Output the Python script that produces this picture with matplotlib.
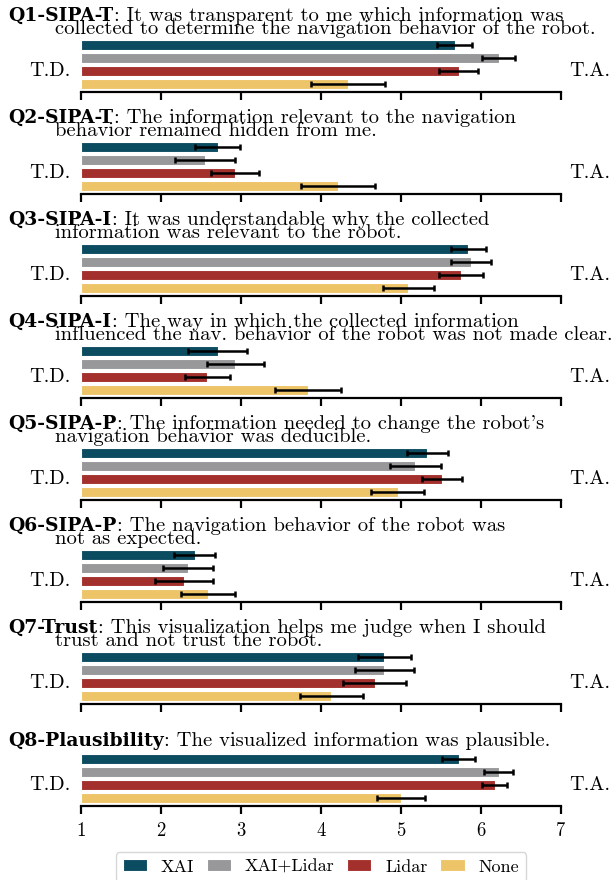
import numpy as np
import matplotlib.pyplot as plt

plt.rcParams['font.family'] = ['cmr10', 'DejaVu Serif']
plt.rcParams['mathtext.fontset'] = 'cm'
plt.rcParams['axes.formatter.use_mathtext'] = True

conditions = ["XAI", "XAI+Lidar", "Lidar", "None"]
colors = ["#0b4c61", "#98989b", "#a3302c", "#eec468"]

prefixes = ["Q1-SIPA-T", "Q2-SIPA-T", "Q3-SIPA-I", "Q4-SIPA-I",
            "Q5-SIPA-P", "Q6-SIPA-P", "Q7-Trust", "Q8-Plausibility"]
line1 = ["It was transparent to me which information was",
         "The information relevant to the navigation",
         "It was understandable why the collected",
         "The way in which the collected information",
         "The information needed to change the robot's",
         "The navigation behavior of the robot was",
         "This visualization helps me judge when I should",
         "The visualized information was plausible."]
line2 = ["collected to determine the navigation behavior of the robot.",
         "behavior remained hidden from me.",
         "information was relevant to the robot.",
         "influenced the nav. behavior of the robot was not made clear.",
         "navigation behavior was deducible.",
         "not as expected.",
         "trust and not trust the robot.",
         ""]

xai_mean = [5.67, 2.71, 5.84, 2.71, 5.33, 2.42, 4.79, 5.72]
xai_err = [0.22, 0.28, 0.22, 0.37, 0.26, 0.26, 0.33, 0.21]
xailidar_mean = [6.22, 2.55, 5.88, 2.93, 5.18, 2.34, 4.79, 6.22]
xailidar_err = [0.21, 0.38, 0.25, 0.36, 0.32, 0.31, 0.37, 0.18]
lidar_mean = [5.72, 2.93, 5.75, 2.58, 5.51, 2.29, 4.67, 6.17]
lidar_err = [0.24, 0.30, 0.27, 0.28, 0.25, 0.36, 0.39, 0.16]
none_mean = [4.34, 4.21, 5.09, 3.84, 4.96, 2.59, 4.13, 5.00]
none_err = [0.46, 0.46, 0.32, 0.41, 0.33, 0.34, 0.39, 0.30]

means = np.array([xai_mean, xailidar_mean, lidar_mean, none_mean])
errs = np.array([xai_err, xailidar_err, lidar_err, none_err])
ticks = [1, 2, 3, 4, 5, 6, 7]

W, H = 616, 880
fig = plt.figure(figsize=(W / 100, H / 100), dpi=100)
renderer = fig.canvas.get_renderer()
fs = 14.8

handles = []
for i in range(8):
    top = 37.7 + 102 * i
    ax = fig.add_axes([81 / W, 1 - (top + 54) / H, 480 / W, 54 / H])
    y = np.arange(4)
    for k in range(4):
        b = ax.barh(y[k], means[k, i] - 1, left=1, height=0.8, color=colors[k],
                    edgecolor="white", linewidth=0.8, label=conditions[k])
        if i == 0:
            handles.append(b)
    ax.errorbar(means[:, i], y, xerr=errs[:, i], fmt="none", ecolor="black",
                elinewidth=1.8, capsize=2.5, capthick=1.8)
    ax.set_xlim(1, 7)
    ax.set_ylim(3.59, -0.59)
    ax.set_xticks(ticks)
    ax.set_yticks([])
    for s in ["left", "top", "right"]:
        ax.spines[s].set_visible(False)
    ax.spines["bottom"].set_linewidth(1.6)
    ax.tick_params(axis="x", direction="out", length=6, width=1.6,
                   labelsize=13.5, labelbottom=(i == 7), pad=6)
    ax.text(-0.021, 0.29, "T.D.", transform=ax.transAxes, ha="right",
            va="baseline", fontsize=14.5)
    ax.text(1.018, 0.29, "T.A.", transform=ax.transAxes, ha="left",
            va="baseline", fontsize=14.5)

    # title: bold prefix followed by regular text, second line indented
    if line2[i]:
        y1 = 1 - (top - 17) / H
    else:
        y1 = 1 - (top - 6) / H
    t = fig.text(8.6 / W, y1, prefixes[i], fontfamily="DejaVu Serif",
                 fontweight="bold", fontsize=13.5, va="baseline")
    bb = t.get_window_extent(renderer)
    fig.text(bb.x1 / W, y1, ": " + line1[i], fontsize=fs, va="baseline")
    if line2[i]:
        fig.text(55 / W, 1 - (top - 4) / H, line2[i], fontsize=fs,
                 va="baseline")

fig.legend(handles, conditions, loc="upper center",
           bbox_to_anchor=(321 / W, 1 - 852 / H), ncol=4, fontsize=13,
           handlelength=1.33, handleheight=0.6, columnspacing=0.7,
           handletextpad=0.78, borderpad=0.4, borderaxespad=0, fancybox=True)

fig.savefig("out.png", dpi=100)
